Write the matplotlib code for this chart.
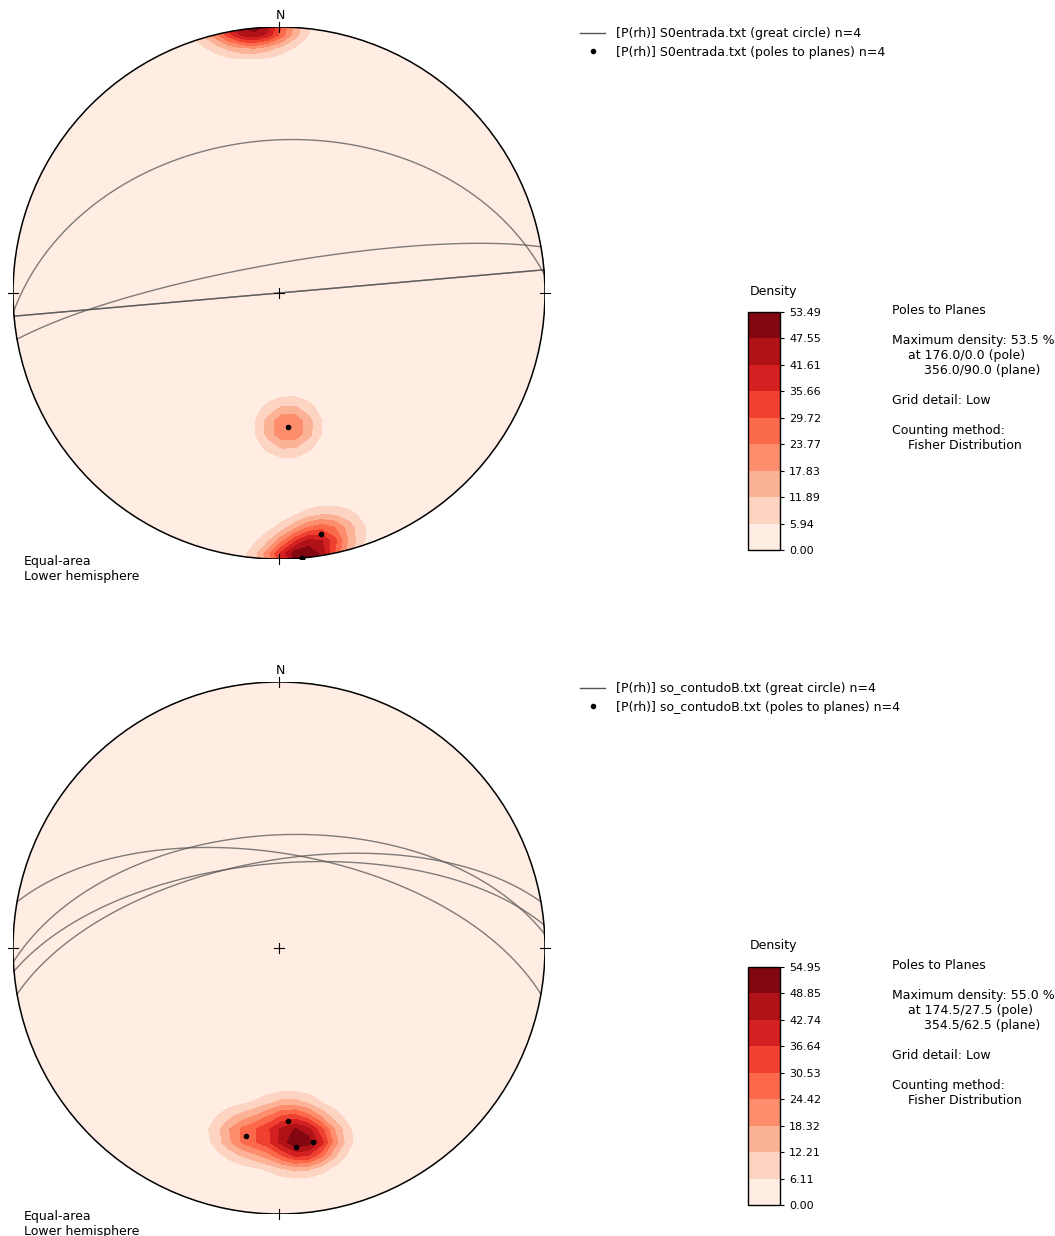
import numpy as np
import matplotlib.pyplot as plt
from matplotlib.lines import Line2D

# planes given as dip direction / dip (poles are derived from them)
top_dipdir = [356, 355, 355, 350]
top_dip = [42, 90, 90, 81]
top_levels = [0.00, 5.94, 11.89, 17.83, 23.77, 29.72, 35.66, 41.61, 47.55, 53.49]
top_file = "S0entrada.txt"
top_max = ["53.5", "176.0/0.0", "356.0/90.0"]

bot_dipdir = [357, 10, 355, 350]
bot_dip = [55, 61, 64, 63]
bot_levels = [0.00, 6.11, 12.21, 18.32, 24.42, 30.53, 36.64, 42.74, 48.85, 54.95]
bot_file = "so_contudoB.txt"
bot_max = ["55.0", "174.5/27.5", "354.5/62.5"]

kappa = 100.0
W, H = 1055, 1236


def proj(v):
    # equal-area, lower hemisphere, unit circle
    x, y, z = v
    flip = np.where(z < 0, -1.0, 1.0)
    x, y, z = x * flip, y * flip, z * flip
    r = np.sqrt(np.clip(1 - z, 0, None))
    h = np.hypot(x, y)
    h = np.where(h == 0, 1, h)
    return r * x / h, r * y / h


def pole_vec(dd, dip):
    t = np.radians(np.asarray(dd) + 180.0)
    p = np.radians(90.0 - np.asarray(dip))
    return np.array([np.cos(p) * np.sin(t), np.cos(p) * np.cos(t), np.sin(p)])


def great_circle(dd, dip):
    a = np.linspace(0, np.pi, 300)
    ddr, dr = np.radians(dd), np.radians(dip)
    s = np.array([np.sin(ddr - np.pi / 2), np.cos(ddr - np.pi / 2), 0.0])
    d = np.array([np.cos(dr) * np.sin(ddr), np.cos(dr) * np.cos(ddr), np.sin(dr)])
    v = s[:, None] * np.cos(a) + d[:, None] * np.sin(a)
    return proj(v)


def density(poles):
    # coarse ("Low") counting grid
    gx = -1.0896 + 0.05 * np.arange(45)
    gy = -1.0807 + 0.05 * np.arange(45)
    X, Y = np.meshgrid(gx, gy)
    r = np.clip(np.hypot(X, Y), 0, np.sqrt(2))
    th = 2 * np.arcsin(r / np.sqrt(2))
    tr = np.arctan2(X, Y)
    v = np.array([np.sin(th) * np.sin(tr), np.sin(th) * np.cos(tr), np.cos(th)])
    dots = np.abs(np.einsum('ijk,il->ljk', v, poles))
    D = 100.0 / poles.shape[1] * np.exp(kappa * (dots - 1)).sum(axis=0)
    return X, Y, D


def stereonet(top_px, dipdir, dip, levels, fname, maxinfo):
    cx, R = 279, 266
    ax = fig.add_axes([(cx - R) / W, 1 - (top_px + 2 * R) / H, 2 * R / W, 2 * R / H])
    ax.set_xlim(-1, 1)
    ax.set_ylim(-1, 1)
    ax.set_aspect('equal')
    ax.axis('off')

    poles = pole_vec(dipdir, dip)
    X, Y, D = density(poles)
    D = np.minimum(D, levels[-1])
    cs = ax.contourf(X, Y, D, levels=levels, cmap='Reds')
    circ = plt.Circle((0, 0), 1, fill=False, color='black', lw=1.1, zorder=5)
    ax.add_patch(circ)
    cs.set_clip_path(circ)

    for dd, dp in zip(dipdir, dip):
        gx, gy = great_circle(dd, dp)
        ax.plot(gx, gy, color='#555555', lw=1, alpha=0.75, zorder=3)
    px, py = proj(poles)
    ax.plot(px, py, 'o', color='black', ms=3, zorder=4)

    t = 0.02
    ax.plot([0, 0], [1 - t, 1 + t], color='black', lw=0.8, clip_on=False, zorder=6)
    ax.plot([0, 0], [-1 - t, -1 + t], color='black', lw=0.8, clip_on=False, zorder=6)
    ax.plot([1 - t, 1 + t], [0, 0], color='black', lw=0.8, clip_on=False, zorder=6)
    ax.plot([-1 - t, -1 + t], [0, 0], color='black', lw=0.8, clip_on=False, zorder=6)
    ax.plot([-t, t], [0, 0], color='black', lw=0.8, zorder=6)
    ax.plot([0, 0], [-t, t], color='black', lw=0.8, zorder=6)
    ax.text(0.007, 1.042, 'N', ha='center', va='center', fontsize=9)

    fig.text(24 / W, 1 - (top_px + 528) / H, 'Equal-area\nLower hemisphere',
             ha='left', va='top', fontsize=9, linespacing=1.2)

    handles = [Line2D([], [], color='#555555', lw=1),
               Line2D([], [], marker='o', ls='', color='black', ms=3)]
    labels = ['[P(rh)] %s (great circle) n=%d' % (fname, len(dip)),
              '[P(rh)] %s (poles to planes) n=%d' % (fname, len(dip))]
    fig.legend(handles, labels, loc='upper left', frameon=False, fontsize=9,
               bbox_to_anchor=(575 / W, 1 - (top_px - 5) / H), handlelength=2.0,
               handletextpad=0.9, borderaxespad=0, labelspacing=0.45)

    cax = fig.add_axes([748 / W, 1 - (top_px + 523) / H, 32 / W, 238 / H])
    cb = fig.colorbar(cs, cax=cax, ticks=levels, format='%.2f')
    cb.ax.tick_params(labelsize=8, length=3)
    cb.outline.set_linewidth(1)
    fig.text(750 / W, 1 - (top_px + 264) / H, 'Density', ha='left', va='center', fontsize=9)

    info = ('Poles to Planes\n\nMaximum density: %s %%\n    at %s (pole)\n'
            '        %s (plane)\n\nGrid detail: Low\n\nCounting method:\n'
            '    Fisher Distribution' % tuple(maxinfo))
    fig.text(892 / W, 1 - (top_px + 277) / H, info, ha='left', va='top',
             fontsize=9, linespacing=1.2)


fig = plt.figure(figsize=(W / 100, H / 100), dpi=100)
stereonet(27, top_dipdir, top_dip, top_levels, top_file, top_max)
stereonet(682, bot_dipdir, bot_dip, bot_levels, bot_file, bot_max)
fig.savefig('out.png', dpi=100)
